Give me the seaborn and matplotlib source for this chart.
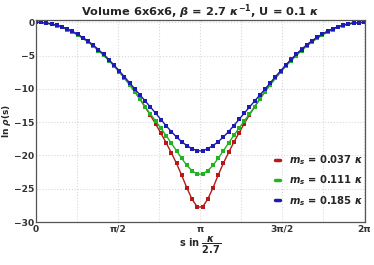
import numpy as np
import pandas as pd
import matplotlib
matplotlib.use("Agg")
import matplotlib.pyplot as plt
import seaborn as sns

# ln rho(s) for three masses, 64 points on [0, 2pi]
red_vals = [0.0, -0.03, -0.12, -0.26, -0.46, -0.73, -1.04, -1.41, -1.85, -2.35, -2.88,
            -3.50, -4.17, -4.90, -5.66, -6.50, -7.41, -8.37, -9.36, -10.44, -11.57,
            -12.77, -13.98, -15.29, -16.66, -18.09, -19.60, -21.20, -23.00, -24.90,
            -26.60, -27.75,
            -27.72, -26.55, -24.85, -22.95, -21.15, -19.55, -18.02, -16.60, -15.22,
            -13.90, -12.68, -11.48, -10.35, -9.27, -8.28, -7.32, -6.41, -5.57, -4.80,
            -4.07, -3.40, -2.78, -2.25, -1.76, -1.33, -0.96, -0.66, -0.41, -0.22,
            -0.10, -0.04, -0.02]
green_vals = [0.0, -0.03, -0.13, -0.28, -0.49, -0.77, -1.09, -1.47, -1.92, -2.42, -2.96,
              -3.58, -4.25, -4.98, -5.74, -6.57, -7.47, -8.42, -9.39, -10.44, -11.55,
              -12.72, -13.78, -14.85, -15.92, -17.02, -18.15, -19.30, -20.45, -21.50,
              -22.30, -22.82,
              -22.80, -22.28, -21.48, -20.42, -19.28, -18.12, -17.00, -15.90, -14.83,
              -13.76, -12.70, -11.55, -10.45, -9.40, -8.43, -7.49, -6.59, -5.76, -5.00,
              -4.27, -3.60, -2.98, -2.43, -1.93, -1.48, -1.10, -0.77, -0.49, -0.28,
              -0.13, -0.04, -0.01]
blue_vals = [0.0, -0.03, -0.11, -0.25, -0.44, -0.70, -1.00, -1.37, -1.80, -2.29, -2.82,
             -3.43, -4.10, -4.83, -5.62, -6.44, -7.30, -8.19, -9.10, -10.02, -10.93,
             -11.84, -12.74, -13.66, -14.60, -15.53, -16.42, -17.23, -17.94, -18.53,
             -18.98, -19.30,
             -19.30, -18.97, -18.52, -17.93, -17.22, -16.41, -15.52, -14.59, -13.65,
             -12.73, -11.83, -10.92, -10.01, -9.09, -8.18, -7.29, -6.43, -5.61, -4.82,
             -4.09, -3.42, -2.81, -2.28, -1.79, -1.36, -0.99, -0.69, -0.43, -0.24,
             -0.11, -0.04, -0.02]
s_vals = np.linspace(0, 2 * np.pi, len(red_vals))

labels = [r'$m_s$ = 0.037 $\kappa$', r'$m_s$ = 0.111 $\kappa$', r'$m_s$ = 0.185 $\kappa$']
colors = ['#b81818', '#22b322', '#1c1cb4']

xtick_pos = [0, np.pi / 2, np.pi, 3 * np.pi / 2, 2 * np.pi]
xtick_lab = ['0', 'π/2', 'π', '3π/2', '2π']
ytick_pos = [0, -5, -10, -15, -20, -25, -30]

sns.set_style("white")
plt.rcParams['font.family'] = ['DejaVu Sans']
plt.rcParams['font.weight'] = 'bold'
plt.rcParams['mathtext.fontset'] = 'custom'
plt.rcParams['mathtext.rm'] = 'DejaVu Sans:bold'
plt.rcParams['mathtext.it'] = 'DejaVu Sans:bold:italic'
plt.rcParams['mathtext.bf'] = 'DejaVu Sans:bold'

fig = plt.figure(figsize=(3.74, 2.65), dpi=100)
ax = fig.add_axes([0.096, 0.162, 0.88, 0.764])

for vals, lab, col in zip([red_vals, green_vals, blue_vals], labels, colors):
    sns.lineplot(x=s_vals, y=vals, ax=ax, color=col, label=lab, lw=1.0,
                 marker='s', markersize=2.3, markeredgewidth=0)

ax.set_xlim(0, 2 * np.pi * 1.003)
ax.set_ylim(-30, 0.4)
ax.set_xticks(xtick_pos)
ax.set_xticklabels(xtick_lab)
ax.set_yticks(ytick_pos)
ax.set_yticklabels([f'{v}'.replace('-', '\u2212') for v in ytick_pos])
ax.set_xticks(np.arange(0, 2 * np.pi + 0.01, np.pi / 4), minor=True)
ax.tick_params(axis='both', which='major', labelsize=6.6, direction='in',
               length=3, width=0.8, pad=1, colors='#333333')
ax.tick_params(axis='x', which='major', pad=2)
ax.tick_params(axis='both', which='minor', direction='in', length=0)
ax.grid(True, which='both', axis='x', color='#d8d8d8', ls=':', lw=0.8)
ax.grid(True, which='major', axis='y', color='#d8d8d8', ls=':', lw=0.8)
for sp in ax.spines.values():
    sp.set_color('#555555')
    sp.set_linewidth(0.9)

ax.set_title(r'Volume 6x6x6, $\beta$ = 2.7 $\kappa^{-1}$, U = 0.1 $\kappa$',
             fontsize=8.2, fontweight='bold', pad=3)
ax.set_ylabel(r'ln $\rho$(s)', fontsize=6.5, fontweight='bold')
ax.yaxis.set_label_coords(-0.071, 0.5)
ax.set_xlabel(r's in $\dfrac{\kappa}{2.7}$', fontsize=7, fontweight='bold', labelpad=1)

leg = ax.legend(loc='lower right', frameon=False, fontsize=7.2, handlelength=0.5,
                handletextpad=0.9, labelspacing=0.65, borderaxespad=0.6,
                bbox_to_anchor=(1.025, 0.022))
for h in leg.get_lines():
    h.set_marker('')
    h.set_linewidth(2.5)

fig.savefig('out.png', dpi=100)
